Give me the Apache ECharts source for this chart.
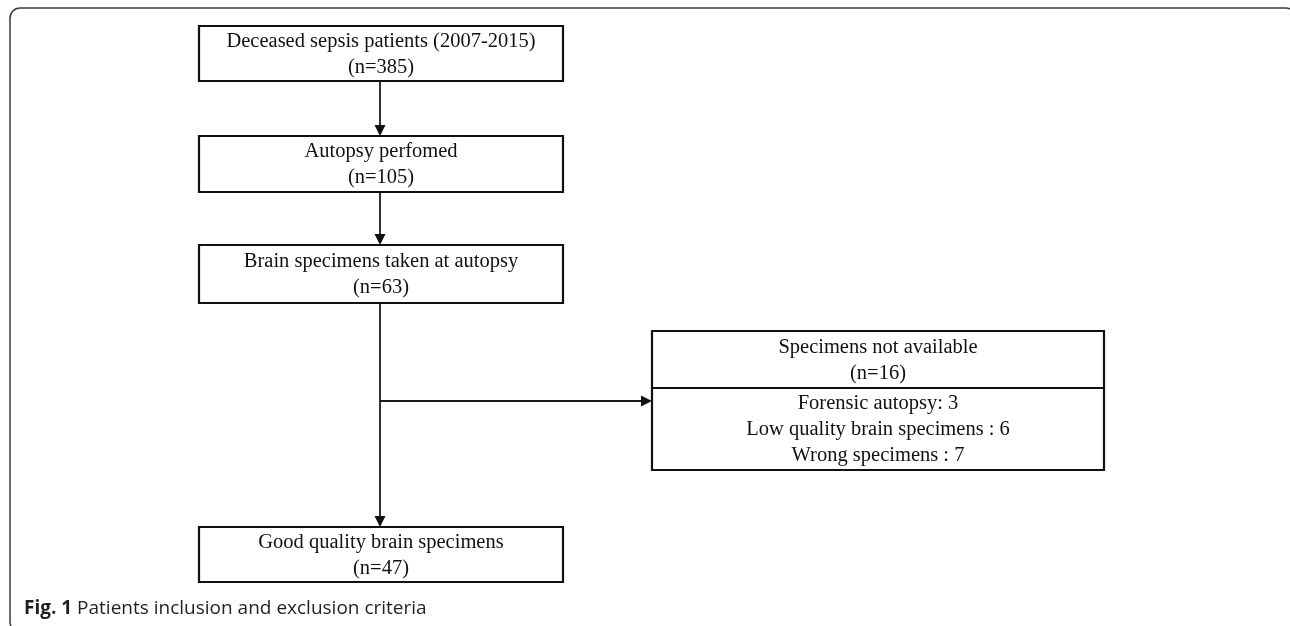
<!DOCTYPE html>
<html>
<head>
<meta charset="utf-8">
<script src="https://cdn.jsdelivr.net/npm/echarts@6/dist/echarts.min.js"></script>
<style>
  html, body { margin: 0; padding: 0; background: #fff; }
  #chart { width: 1290px; height: 626px; }
</style>
</head>
<body>
<div id="chart"></div>
<script>
// main column of the flow
const stepNames = ['Deceased sepsis patients (2007-2015)', 'Autopsy perfomed', 'Brain specimens taken at autopsy', 'Good quality brain specimens'];
const stepCounts = [385, 105, 63, 47];
// excluded branch
const excludedName = 'Specimens not available';
const excludedCount = 16;
const reasonNames = ['Forensic autopsy:', 'Low quality brain specimens :', 'Wrong specimens :'];
const reasonCounts = [3, 6, 7];
const captionBold = 'Fig. 1';
const captionText = 'Patients inclusion and exclusion criteria';

// layout, in page units (y grows downwards)
const mainX = [199, 563];
const stepY = [[26, 81], [136, 192], [245, 303], [527, 582]];
const sideX = [652, 1104];
const sideY = [331, 388, 470];
const branchY = 401;

const serif = '"Liberation Serif", "Times New Roman", serif';
const boxFont = '20.5px ' + serif;
const midX = (mainX[0] + mainX[1]) / 2 - 1;

let chart = echarts.init(document.getElementById('chart'));

function boxShape(api, x0, y0, x1, y1) {
  let a = api.coord([x0, y0]);
  let b = api.coord([x1, y1]);
  return { x: a[0], y: a[1], width: b[0] - a[0], height: b[1] - a[1] };
}

// arrows: step -> step, and the branch to the excluded box
let arrows = [];
for (let i = 0; i < stepNames.length - 1; i++) {
  arrows.push([midX, stepY[i][1], midX, stepY[i + 1][0]]);
}
arrows.push([midX, branchY, sideX[0], branchY]);

chart.setOption({
  animation: false,
  title: {
    text: '{b|' + captionBold + '} ' + captionText,
    left: 19,
    top: 594,
    textStyle: {
      fontFamily: '"Open Sans", sans-serif',
      fontSize: 19,
      fontWeight: 'normal',
      color: '#231f20',
      rich: { b: { fontFamily: '"Open Sans", sans-serif', fontSize: 19, fontWeight: 'bold', color: '#231f20' } }
    }
  },
  graphic: [{
    type: 'rect',
    shape: { x: 10, y: 8, width: 1286, height: 624, r: 10 },
    style: { fill: 'none', stroke: '#3a3a3a', lineWidth: 1.5 },
    silent: true
  }],
  grid: { left: 0, right: 0, top: 0, bottom: 0 },
  xAxis: { type: 'value', min: 0, max: 1290, show: false },
  yAxis: { type: 'value', min: 0, max: 626, inverse: true, show: false },
  series: [{
    type: 'custom',
    name: 'connectors',
    data: arrows,
    renderItem: function (params, api) {
      let a = api.coord([api.value(0), api.value(1)]);
      let b = api.coord([api.value(2), api.value(3)]);
      let dx = b[0] - a[0], dy = b[1] - a[1];
      let len = Math.sqrt(dx * dx + dy * dy);
      let ux = dx / len, uy = dy / len;
      let hl = 11, hw = 5.5;
      let base = [b[0] - ux * hl, b[1] - uy * hl];
      return {
        type: 'group',
        children: [{
          type: 'line',
          shape: { x1: a[0], y1: a[1], x2: base[0], y2: base[1] },
          style: { stroke: '#1a1a1a', lineWidth: 1.8 }
        }, {
          type: 'polygon',
          shape: { points: [b, [base[0] - uy * hw, base[1] + ux * hw], [base[0] + uy * hw, base[1] - ux * hw]] },
          style: { fill: '#111' }
        }]
      };
    }
  }, {
    type: 'custom',
    name: 'steps',
    data: stepNames.map((n, i) => [mainX[0], stepY[i][0], mainX[1], stepY[i][1], i]),
    renderItem: function (params, api) {
      let r = boxShape(api, api.value(0), api.value(1), api.value(2), api.value(3));
      let i = api.value(4);
      return {
        type: 'group',
        children: [{
          type: 'rect',
          shape: r,
          style: { fill: '#fff', stroke: '#111', lineWidth: 2.2 }
        }, {
          type: 'text',
          style: {
            text: stepNames[i] + '\n(n=' + stepCounts[i] + ')',
            x: r.x + r.width / 2, y: r.y + r.height / 2 + 1,
            align: 'center', verticalAlign: 'middle',
            font: boxFont, lineHeight: 26, fill: '#111'
          }
        }]
      };
    }
  }, {
    type: 'custom',
    name: 'excluded',
    data: [[sideX[0], sideY[0], sideX[1], sideY[2], sideY[1]]],
    renderItem: function (params, api) {
      let r = boxShape(api, api.value(0), api.value(1), api.value(2), api.value(3));
      let d = api.coord([api.value(0), api.value(4)])[1];
      let cx = r.x + r.width / 2;
      let lines = reasonNames.map((n, k) => n + ' ' + reasonCounts[k]);
      return {
        type: 'group',
        children: [{
          type: 'rect',
          shape: r,
          style: { fill: '#fff', stroke: '#111', lineWidth: 2.2 }
        }, {
          type: 'line',
          shape: { x1: r.x, y1: d, x2: r.x + r.width, y2: d },
          style: { stroke: '#111', lineWidth: 2 }
        }, {
          type: 'text',
          style: {
            text: excludedName + '\n(n=' + excludedCount + ')',
            x: cx, y: (r.y + d) / 2 + 1,
            align: 'center', verticalAlign: 'middle',
            font: boxFont, lineHeight: 26, fill: '#111'
          }
        }, {
          type: 'text',
          style: {
            text: lines.join('\n'),
            x: cx, y: (d + r.y + r.height) / 2 + 1,
            align: 'center', verticalAlign: 'middle',
            font: boxFont, lineHeight: 26, fill: '#111'
          }
        }]
      };
    }
  }]
});
</script>
</body>
</html>
